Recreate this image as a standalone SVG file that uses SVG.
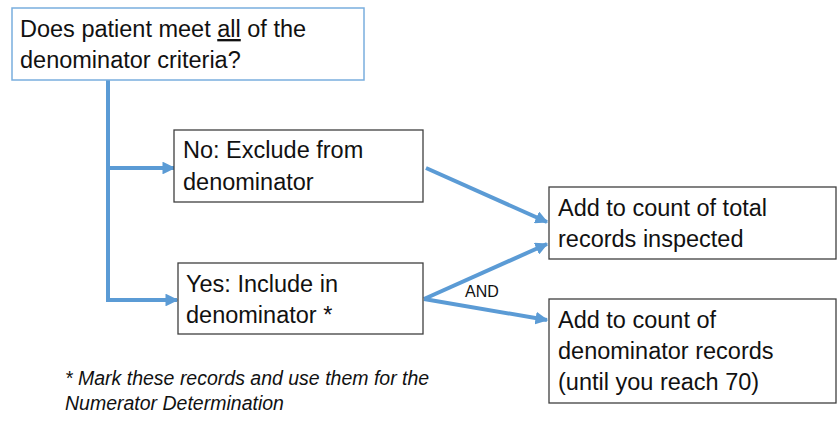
<svg xmlns="http://www.w3.org/2000/svg" width="838" height="423" viewBox="0 0 838 423">
<style>
.box{fill:#fff;stroke:#3f3f3f;stroke-width:1.3}
.top{fill:#fff;stroke:#7aaede;stroke-width:1.5}
.t{font-family:"Liberation Sans",Arial,sans-serif;font-size:23.5px;fill:#111}
.and{font-family:"Liberation Sans",Arial,sans-serif;font-size:16px;fill:#111}
.note{font-family:"Liberation Sans",Arial,sans-serif;font-size:19.5px;font-style:italic;fill:#111}
.c{fill:none;stroke:#5b9bd5;stroke-width:4}
</style>
<defs>
<marker id="ah" viewBox="0 0 10 10" refX="9" refY="5" markerWidth="3.2" markerHeight="3.2" orient="auto" markerUnits="strokeWidth">
<path d="M0,0 L10,5 L0,10 Z" fill="#5b9bd5"/>
</marker>
</defs>
<g id="connectors">
<path class="c" d="M108,80 V300"/>
<path class="c" d="M106,168 H174" marker-end="url(#ah)"/>
<path class="c" d="M106,300 H177" marker-end="url(#ah)"/>
<path class="c" d="M426,168 L547,222" marker-end="url(#ah)"/>
<path class="c" d="M424,299 L547,244" marker-end="url(#ah)"/>
<path class="c" d="M424,299 L547,320" marker-end="url(#ah)"/>
<text class="and" x="465" y="297">AND</text>
</g>
<g id="question">
<rect class="top" x="12" y="8" width="352" height="72"/>
<text class="t" x="20" y="37">Does patient meet <tspan text-decoration="underline">all</tspan> of the</text>
<text class="t" x="20" y="68">denominator criteria?</text>
</g>
<g id="no">
<rect class="box" x="174" y="130" width="249" height="72"/>
<text class="t" x="183" y="158">No: Exclude from</text>
<text class="t" x="183" y="190">denominator</text>
</g>
<g id="yes">
<rect class="box" x="178" y="263" width="245" height="71"/>
<text class="t" x="186" y="292">Yes: Include in</text>
<text class="t" x="186" y="323">denominator *</text>
</g>
<g id="total">
<rect class="box" x="549" y="187" width="287" height="72"/>
<text class="t" x="558" y="216">Add to count of total</text>
<text class="t" x="558" y="247">records inspected</text>
</g>
<g id="denom">
<rect class="box" x="549" y="299" width="287" height="104"/>
<text class="t" x="558" y="328">Add to count of</text>
<text class="t" x="558" y="359">denominator records</text>
<text class="t" x="558" y="390">(until you reach 70)</text>
</g>
<g id="footnote">
<text class="note" x="65" y="385">* Mark these records and use them for the</text>
<text class="note" x="65" y="410">Numerator Determination</text>
</g>
</svg>
